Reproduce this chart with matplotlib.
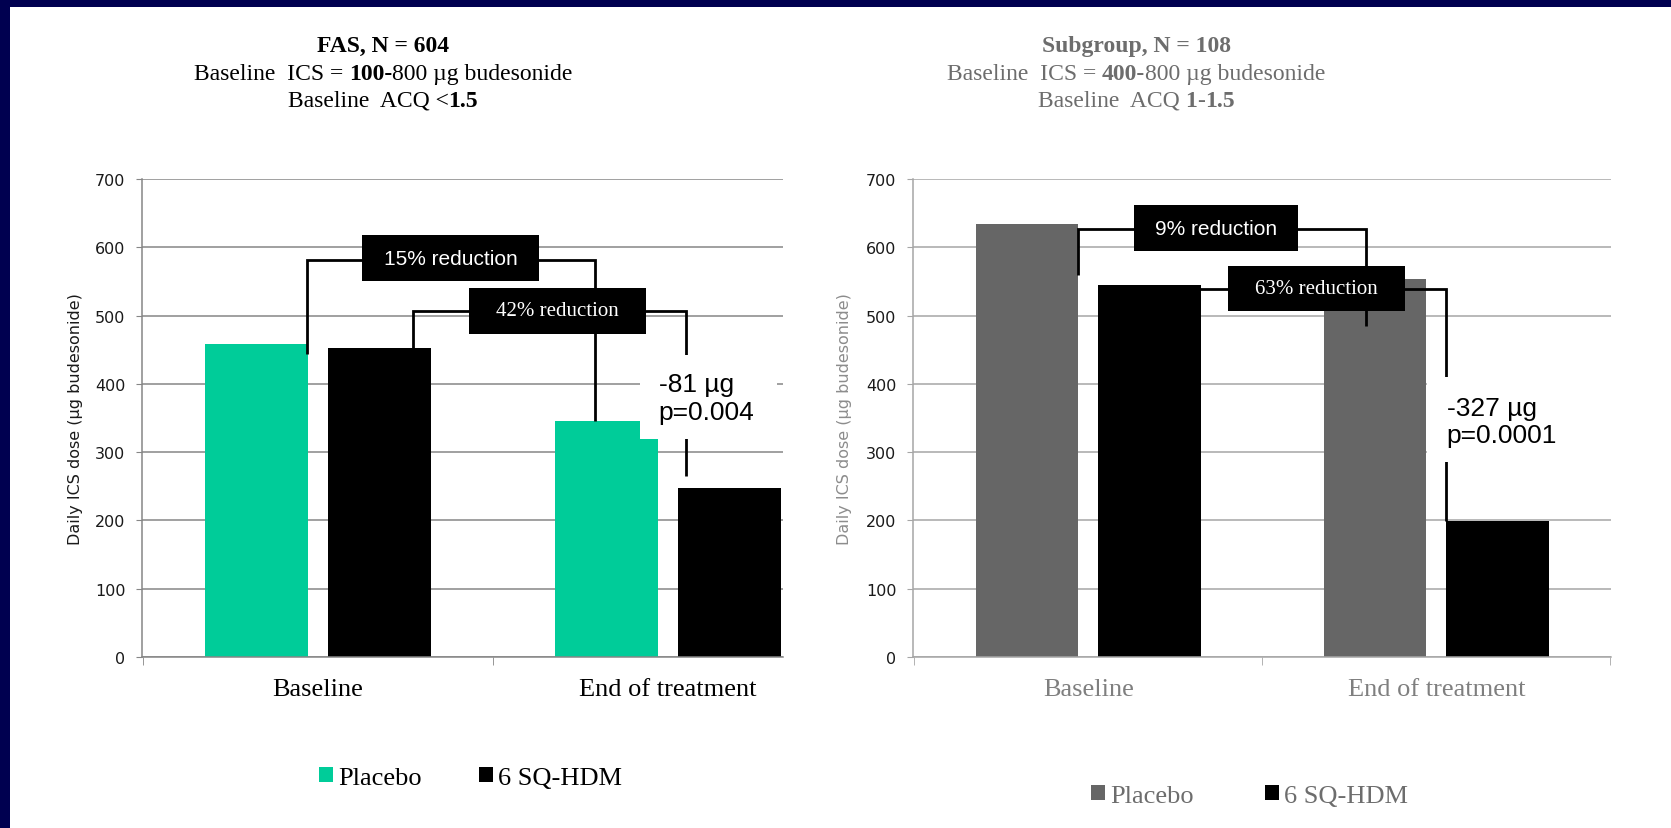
import numpy as np
import matplotlib
matplotlib.use("Agg")
import matplotlib.pyplot as plt
from matplotlib.patches import Rectangle, Patch

# ---- data -------------------------------------------------------------
categories = ["Baseline", "End of treatment"]
series_names = ["Placebo", "6 SQ-HDM"]

fas_placebo = [458, 345]
fas_active = [453, 248]
sub_placebo = [634, 553]
sub_active = [545, 199]

y_ticks = [0, 100, 200, 300, 400, 500, 600, 700]
y_label = "Daily ICS dose (\u00b5g budesonide)"

fas_title = [
    [("FAS, N = 604", "bold")],
    [("Baseline  ICS = ", "normal"), ("100-", "bold"), ("800 \u00b5g budesonide", "normal")],
    [("Baseline  ACQ <", "normal"), ("1.5", "bold")],
]
sub_title = [
    [("Subgroup, N = 108", "bold")],
    [("Baseline  ICS = ", "normal"), ("400-", "bold"), ("800 \u00b5g budesonide", "normal")],
    [("Baseline  ACQ ", "normal"), ("1", "bold"), ("-", "normal"), ("1.5", "bold")],
]

fas_reductions = ["15% reduction", "42% reduction"]
sub_reductions = ["9% reduction", "63% reduction"]
fas_difference = "-81 \u00b5g\np=0.004"
sub_difference = "-327 \u00b5g\np=0.0001"

# ---- style ------------------------------------------------------------
W, H = 1671, 829
NAVY = "#000050"
GREEN = "#00CC99"
DARK_GREY = "#666666"
SERIF = "Liberation Serif"
SANS = "Liberation Sans"
TICK_FONT = "DejaVu Sans"

fig = plt.figure(figsize=(W / 100, H / 100), dpi=100)
fig.patch.set_facecolor(NAVY)
fig.add_artist(Rectangle((10 / W, 0), 1, 1 - 8 / H, transform=fig.transFigure,
                         facecolor="white", edgecolor="none", zorder=-10))

ax1 = fig.add_axes([142 / W, 1 - 658 / H, 641 / W, 478 / H])
ax2 = fig.add_axes([913 / W, 1 - 658 / H, 698 / W, 478 / H])

BAR_W = 0.294
OFF = 0.176


def style_axes(ax, xlim, grid_col, text_col, label_col, label_x):
    ax.set_yticks(y_ticks)
    ax.yaxis.grid(True, color=grid_col, lw=1.1)
    ax.set_axisbelow(True)
    for s in ("top", "right"):
        ax.spines[s].set_visible(False)
    for s in ("left", "bottom"):
        ax.spines[s].set_color(grid_col)
        ax.spines[s].set_linewidth(1.1)
    ax.tick_params(axis="y", length=4, color=grid_col, pad=8, labelsize=11.5,
                   labelcolor="#1a1a1a")
    for t in ax.get_yticklabels():
        t.set_family(TICK_FONT)
    ax.set_xticks(np.arange(len(categories)))
    ax.set_xticklabels(categories, family=SERIF, fontsize=19, color=text_col)
    ax.tick_params(axis="x", which="major", length=0, pad=15)
    ax.set_xticks([-0.5, 0.5, 1.5], minor=True)
    ax.tick_params(axis="x", which="minor", length=6, color=grid_col)
    ax.set_ylabel(y_label, family=TICK_FONT, fontsize=11.5, color=label_col)
    ax.yaxis.set_label_coords(label_x, 0.5)
    # limits last, so the category-boundary ticks do not widen the view
    ax.set_xlim(*xlim)
    ax.set_ylim(0, 700)


def draw_bars(ax, placebo, active, pcol):
    x = np.arange(len(categories))
    ax.bar(x - OFF, placebo, width=BAR_W, color=pcol, zorder=2)
    ax.bar(x + OFF, active, width=BAR_W, color="black", zorder=2)


def bracket(ax, xs, ys):
    ax.plot(xs, ys, color="black", lw=2.0, zorder=3, solid_joinstyle="miter",
            solid_capstyle="butt")


def label_box(ax, cx, cy, w, h, text, family):
    ax.add_patch(Rectangle((cx - w / 2, cy - h / 2), w, h, facecolor="black",
                           edgecolor="none", zorder=4))
    ax.text(cx, cy, text, color="white", family=family, fontsize=15,
            ha="center", va="center", zorder=5)


def diff_box(ax, x0, x1, y0, y1, tx, ty, text):
    ax.add_patch(Rectangle((x0, y0), x1 - x0, y1 - y0, facecolor="white",
                           edgecolor="none", zorder=4))
    ax.text(tx, ty, text, family=SANS, fontsize=19, color="black",
            ha="left", va="center", zorder=5, linespacing=1.2)


# ---- left panel: full analysis set ------------------------------------
draw_bars(ax1, fas_placebo, fas_active, GREEN)
bracket(ax1, [-0.031, -0.031, 0.791, 0.791], [444, 581, 581, fas_placebo[1]])
bracket(ax1, [0.271, 0.271, 1.051, 1.051], [fas_active[0], 507, 507, 265])
label_box(ax1, 0.379, 584, 0.506, 67, fas_reductions[0], SANS)
label_box(ax1, 0.684, 507, 0.506, 67, fas_reductions[1], SERIF)
diff_box(ax1, 0.92, 1.311, 319, 442, 0.974, 379, fas_difference)
style_axes(ax1, (-0.503, 1.329), "#868686", "black", "#1a1a1a", -0.092)

# ---- right panel: subgroup --------------------------------------------
draw_bars(ax2, sub_placebo, sub_active, DARK_GREY)
bracket(ax2, [-0.030, -0.030, 0.797, 0.797], [559, 627, 627, 485])
bracket(ax2, [0.30, 1.027, 1.027], [539, 539, sub_active[1]])
label_box(ax2, 0.366, 628, 0.471, 67, sub_reductions[0], SANS)
label_box(ax2, 0.655, 540, 0.509, 66, sub_reductions[1], SERIF)
diff_box(ax2, 0.973, 1.502, 285.5, 410, 1.030, 345, sub_difference)
style_axes(ax2, (-0.504, 1.502), "#a6a6a6", "#7f7f7f", "#8c8c8c", -0.087)

# ---- titles with mixed weights ---------------------------------------
renderer = fig.canvas.get_renderer()


def advance(s, **kw):
    t = fig.text(0, 0, "|" + s + "|", **kw)
    w1 = t.get_window_extent(renderer).width
    t.remove()
    t = fig.text(0, 0, "||", **kw)
    w0 = t.get_window_extent(renderer).width
    t.remove()
    return w1 - w0


def rich_line(xc_px, base_px, runs, color, size=17):
    widths = [advance(s, family=SERIF, fontsize=size, weight=wt) for s, wt in runs]
    cursor = xc_px - sum(widths) / 2
    for (s, wt), w in zip(runs, widths):
        lead = len(s) - len(s.lstrip())
        off = advance(s[:lead], family=SERIF, fontsize=size, weight=wt) if lead else 0
        fig.text((cursor + off) / W, 1 - base_px / H, s.strip(), family=SERIF,
                 fontsize=size, weight=wt, color=color, ha="left", va="baseline")
        cursor += w


for lines, xc, col in ((fas_title, 383, "black"), (sub_title, 1136, "#6d6d6d")):
    for runs, base in zip(lines, (52, 80, 107)):
        rich_line(xc, base, runs, col)

# ---- legends ----------------------------------------------------------
for pcol, anchor, tcol, spacing in ((GREEN, (319 / W, 1 - 779 / H), "black", 2.15),
                                    (DARK_GREY, (1091 / W, 1 - 797 / H), "#6d6d6d", 2.7)):
    fig.legend(handles=[Patch(facecolor=pcol), Patch(facecolor="black")],
               labels=series_names, loc="center left", bbox_to_anchor=anchor,
               ncol=2, frameon=False, prop={"family": SERIF, "size": 19},
               handlelength=0.53, handleheight=0.53, handletextpad=0.2,
               columnspacing=spacing, borderpad=0, borderaxespad=0,
               labelcolor=tcol)

fig.savefig("out.png", dpi=100, facecolor=fig.get_facecolor())
